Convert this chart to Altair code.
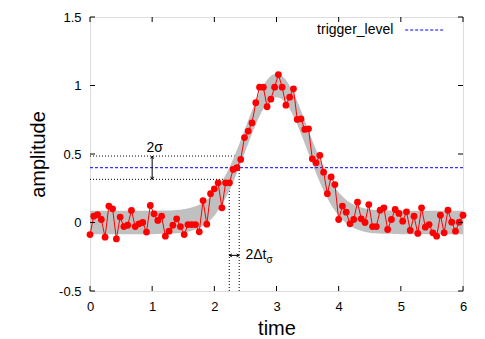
import altair as alt
import numpy as np
import pandas as pd

# ---- data ----
amplitude = [
    -0.088, 0.046, 0.058, 0.022, -0.107, 0.12, 0.10, -0.12, 0.04, -0.03,
    -0.02, 0.088, -0.03, -0.01, 0.0, -0.07, 0.124, 0.063, 0.015, 0.046,
    -0.1, -0.063, -0.02, 0.027, -0.03, -0.088, -0.015, -0.015, -0.015, -0.068,
    0.16, -0.012, 0.21, 0.246, 0.29, 0.107, 0.29, 0.29, 0.387, 0.40,
    0.46, 0.62, 0.667, 0.727, 0.874, 0.988, 0.988, 0.845, 0.90, 0.988,
    1.08, 0.988, 0.856, 0.915, 0.976, 0.752, 0.757, 0.679, 0.684, 0.465,
    0.436, 0.49, 0.367, 0.21, 0.333, 0.277, 0.022, 0.12, 0.075, -0.01,
    0.022, 0.148, 0.027, 0.0, 0.131, -0.03, -0.03, 0.09, 0.107, -0.051,
    0.022, 0.095, 0.066, 0.01, 0.078, -0.058, 0.046, -0.08, 0.107, -0.034,
    -0.015, -0.075, -0.1, 0.053, -0.075, 0.09, 0.002, -0.063, 0.002, 0.053,
]
time = np.linspace(0, 6, len(amplitude))

band_t = [round(i * 0.1, 1) for i in range(61)]
band_center = [
    0, 0, 0, 0, 0, 0, 0, 0, 0, 0, 0,
    0.001, 0.002, 0.003, 0.006, 0.011, 0.020, 0.034, 0.056, 0.089, 0.135,
    0.198, 0.278, 0.375, 0.487, 0.607, 0.726, 0.835, 0.923, 0.980, 1.000,
    0.980, 0.923, 0.835, 0.726, 0.607, 0.487, 0.375, 0.278, 0.198, 0.135,
    0.089, 0.056, 0.034, 0.020, 0.011, 0.006, 0.003, 0.002, 0.001,
    0, 0, 0, 0, 0, 0, 0, 0, 0, 0, 0,
]
band_half = 0.085

trigger_level = 0.4
lo_level = 0.315
hi_level = 0.485
t_lo = 2.24
t_hi = 2.40

x_ticks = [0, 1, 2, 3, 4, 5, 6]
y_ticks = [-0.5, 0, 0.5, 1, 1.5]

W, H = 373, 274
FONT = "Liberation Sans"

xs = alt.Scale(domain=[0, 6], nice=False, zero=False)
ys = alt.Scale(domain=[-0.5, 1.5], nice=False, zero=False)
xaxis = alt.Axis(title="time", values=x_ticks, tickSize=0, domain=False, grid=False,
                 labelFont=FONT, labelFontSize=13, labelPadding=9, labelFlush=False,
                 labelExpr="toString(datum.value)", labelColor="black",
                 titleFont=FONT, titleFontSize=20, titleFontWeight="normal",
                 titleColor="black", titlePadding=5)
yaxis = alt.Axis(title="amplitude", values=y_ticks, tickSize=0, domain=False, grid=False,
                 labelFont=FONT, labelFontSize=13, labelPadding=9, labelFlush=False,
                 labelExpr="toString(datum.value)", labelColor="black",
                 titleFont=FONT, titleFontSize=20, titleFontWeight="normal",
                 titleColor="black", titlePadding=10)


def X(f):
    return alt.X(f, type="quantitative", scale=xs, axis=xaxis)


def Y(f):
    return alt.Y(f, type="quantitative", scale=ys, axis=yaxis)


pts = pd.DataFrame({"t": time, "v": amplitude})
band = pd.DataFrame({"t": band_t,
                     "lo": [c - band_half for c in band_center],
                     "hi": [c + band_half for c in band_center]})

hl = pd.DataFrame({"t": [0, 0], "t2": [t_lo, t_hi], "v": [lo_level, hi_level]})
vl = pd.DataFrame({"t": [t_lo, t_hi], "v": [-0.5, -0.5], "v2": [lo_level, hi_level]})
trig = pd.DataFrame({"t": [0], "t2": [6], "v": [trigger_level]})

dotted_h = alt.Chart(hl).mark_rule(color="black", strokeWidth=1, strokeDash=[1, 2]).encode(
    x=X("t"), x2="t2", y=Y("v"))
dotted_v = alt.Chart(vl).mark_rule(color="black", strokeWidth=1, strokeDash=[1, 2]).encode(
    x=X("t"), y=Y("v"), y2="v2")
band_l = alt.Chart(band).mark_area(color="#c0c0c0", opacity=1, interpolate="monotone").encode(
    x=X("t"), y=Y("lo"), y2="hi")
trig_l = alt.Chart(trig).mark_rule(color="#0000ff", strokeWidth=1, strokeDash=[3, 2]).encode(
    x=X("t"), x2="t2", y=Y("v"))
line_l = alt.Chart(pts).mark_line(color="#ff0000", strokeWidth=1).encode(x=X("t"), y=Y("v"))
pt_l = alt.Chart(pts).mark_circle(color="#ff0000", size=46, opacity=1).encode(x=X("t"), y=Y("v"))

# annotations
sig_arrow = pd.DataFrame({"t": [1.0], "v": [lo_level], "v2": [hi_level]})
sig_heads = pd.DataFrame({"t": [1.0, 1.0], "v": [hi_level, lo_level],
                          "shape": ["M-0.7,1.3L0,0L0.7,1.3", "M-0.7,-1.3L0,0L0.7,-1.3"]})
dt_y = -0.24
dt_arrow = pd.DataFrame({"t": [t_lo], "t2": [t_hi], "v": [dt_y]})
dt_heads = pd.DataFrame({"t": [t_lo, t_hi], "v": [dt_y, dt_y],
                         "shape": ["M1.3,-0.7L0,0L1.3,0.7", "M-1.3,-0.7L0,0L-1.3,0.7"]})

sig_rule = alt.Chart(sig_arrow).mark_rule(color="black", strokeWidth=1).encode(
    x=X("t"), y=Y("v"), y2="v2")
dt_rule = alt.Chart(dt_arrow).mark_rule(color="black", strokeWidth=1).encode(
    x=X("t"), x2="t2", y=Y("v"))
heads = alt.Chart(pd.concat([sig_heads, dt_heads])).mark_point(
    filled=False, color="black", strokeWidth=1, size=16, opacity=1).encode(
    x=X("t"), y=Y("v"), shape=alt.Shape("shape:N", scale=None))

labels = pd.DataFrame({"t": [1.04], "v": [0.545], "txt": ["2σ"]})
sig_text = alt.Chart(labels).mark_text(font=FONT, fontSize=14, align="center",
                                       baseline="middle", color="black").encode(
    x=X("t"), y=Y("v"), text="txt:N")
dt_main = alt.Chart(pd.DataFrame({"t": [2.50], "v": [dt_y], "txt": ["2Δt"]})).mark_text(
    font=FONT, fontSize=14, align="left", baseline="middle", color="black").encode(
    x=X("t"), y=Y("v"), text="txt:N")
dt_sub = alt.Chart(pd.DataFrame({"t": [2.84], "v": [-0.275], "txt": ["σ"]})).mark_text(
    font=FONT, fontSize=10, align="left", baseline="middle", color="black").encode(
    x=X("t"), y=Y("v"), text="txt:N")

# legend
leg_y = 1.405
leg_text = alt.Chart(pd.DataFrame({"t": [4.88], "v": [leg_y], "txt": ["trigger_level"]})).mark_text(
    font=FONT, fontSize=14, align="right", baseline="middle", color="black").encode(
    x=X("t"), y=Y("v"), text="txt:N")
leg_line = alt.Chart(pd.DataFrame({"t": [5.07], "t2": [5.68], "v": [leg_y]})).mark_rule(
    color="#0000ff", strokeWidth=1, strokeDash=[3, 2]).encode(x=X("t"), x2="t2", y=Y("v"))

# inward ticks (mirrored on all four sides)
xt = pd.DataFrame({"t": x_ticks})
yt = pd.DataFrame({"v": y_ticks})
tk = 5
tick_b = alt.Chart(xt).mark_rule(color="black").encode(x=X("t"), y=alt.value(H), y2=alt.value(H - tk))
tick_t = alt.Chart(xt).mark_rule(color="black").encode(x=X("t"), y=alt.value(0), y2=alt.value(tk))
tick_l = alt.Chart(yt).mark_rule(color="black").encode(y=Y("v"), x=alt.value(0), x2=alt.value(tk))
tick_r = alt.Chart(yt).mark_rule(color="black").encode(y=Y("v"), x=alt.value(W), x2=alt.value(W - tk))

chart = alt.layer(
    dotted_h, dotted_v, band_l, trig_l, line_l, pt_l,
    sig_rule, dt_rule, heads, sig_text, dt_main, dt_sub,
    leg_text, leg_line, tick_b, tick_t, tick_l, tick_r,
).properties(
    width=W, height=H,
    autosize=alt.AutoSizeParams(type="none"),
    padding={"left": 82, "top": 9, "right": 12, "bottom": 54},
).configure_view(
    stroke="black", strokeWidth=1
).configure(background="white")

chart.save("out.html", embed_options={"renderer": "svg", "actions": False})
